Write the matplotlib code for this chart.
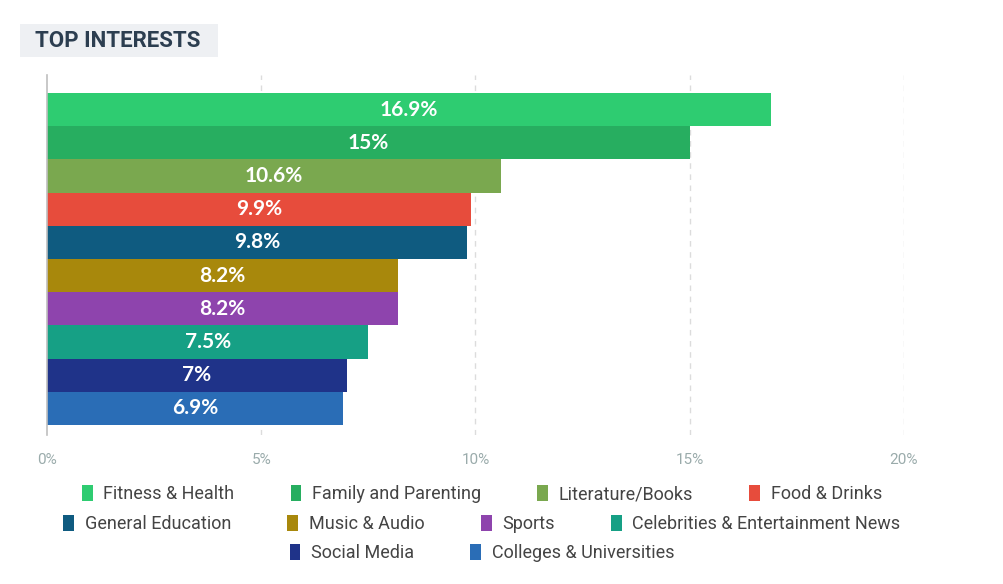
import matplotlib.pyplot as plt
from matplotlib.patches import Patch, Rectangle

# ── DATA ──────────────────────────────────────────────────────────────────────
categories = ["Fitness & Health", "Family and Parenting", "Literature/Books", "Food & Drinks",
              "General Education", "Music & Audio", "Sports",
              "Celebrities & Entertainment News", "Social Media", "Colleges & Universities"]
values = [16.9, 15, 10.6, 9.9, 9.8, 8.2, 8.2, 7.5, 7, 6.9]
labels = ["16.9%", "15%", "10.6%", "9.9%", "9.8%", "8.2%", "8.2%", "7.5%", "7%", "6.9%"]
colors = ["#2ecc71", "#27ae60", "#7aa84f", "#e74c3c", "#0f5b80",
          "#a8880c", "#8e44ad", "#16a085", "#1f3389", "#2a6db6"]
xticks = [0, 5, 10, 15, 20]
xtick_labels = ["0%", "5%", "10%", "15%", "20%"]
legend_rows = [[0, 1, 2, 3], [4, 5, 6, 7], [8, 9]]

# ── FIGURE ────────────────────────────────────────────────────────────────────
W, H = 1004, 584
fig = plt.figure(figsize=(W / 100, H / 100), dpi=100)
ax = fig.add_axes([47 / W, 149 / H, 857 / W, 360 / H])

ypos = list(range(len(values)))
ax.barh(ypos, values, height=1.0, color=colors, zorder=2)
for y, v, lab in zip(ypos, values, labels):
    ax.text(v / 2, y, lab, ha="center", va="center", color="white",
            fontsize=15, fontweight="bold", family="Lato", zorder=3)

ax.set_xlim(0, 20)
ax.set_ylim(9.8, -1.04)
ax.set_yticks([])
ax.set_xticks(xticks)
ax.set_xticklabels(xtick_labels, family="Roboto", fontsize=11, color="#9aabab")
ax.tick_params(axis="x", length=0, pad=13)
for x in xticks[1:]:
    ax.axvline(x, color="#dcdcdc", linewidth=1, linestyle=(0, (4, 4)), zorder=1)
for s in ["top", "right", "bottom"]:
    ax.spines[s].set_visible(False)
ax.spines["left"].set_color("#bfbfbf")
ax.spines["left"].set_linewidth(1.2)

# title box
fig.patches.append(Rectangle((20 / W, 1 - 57 / H), 198 / W, 33 / H,
                             transform=fig.transFigure, facecolor="#eef0f3",
                             edgecolor="none"))
fig.text(35 / W, 1 - 41 / H, "TOP INTERESTS", ha="left", va="center",
         family="Roboto", fontweight="bold", fontsize=16, color="#2c3e50")

# legend, one row at a time so the last row is centred
row_y = [494, 524, 553]
for row, yy in zip(legend_rows, row_y):
    handles = [Patch(facecolor=colors[i], edgecolor="none") for i in row]
    names = [categories[i] for i in row]
    fig.legend(handles, names, loc="center", bbox_to_anchor=(482 / W, 1 - yy / H),
               ncol=len(row), frameon=False, handlelength=0.6, handleheight=1.0,
               handletextpad=0.6, columnspacing=3.1, borderpad=0,
               prop={"family": "Roboto", "size": 13}, labelcolor="#444444")

fig.savefig("out.png", dpi=100)
